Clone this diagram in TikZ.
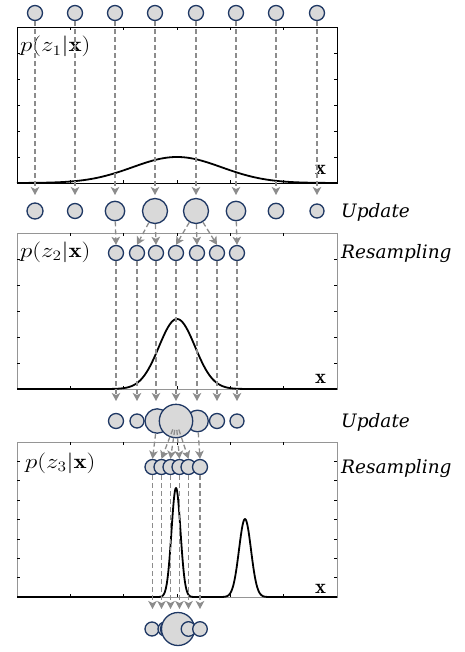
\documentclass[tikz,border=0pt]{standalone}
\usepackage{fontspec}
\usepackage{graphicx}
\newfontfamily\sidefont{DejaVu Serif}
\usetikzlibrary{arrows.meta}
\definecolor{pfill}{HTML}{D9D9D9}
\definecolor{pline}{HTML}{1F3864}
\definecolor{dgray}{HTML}{8C8C8C}
\definecolor{fgray}{HTML}{959595}
\begin{document}
\begin{tikzpicture}[x=1pt,y=-1pt,
  particle/.style={circle,draw=pline,fill=pfill,line width=1.3pt,inner sep=0pt,minimum size=#1},
  dasharr/.style={draw=dgray,line width=1.3pt,dash pattern=on 5pt off 3pt,
    -{Stealth[length=8pt,width=8.5pt,inset=2pt]}},
  curve/.style={black,line width=1.8pt,line join=round},
  tick/.style={line width=0.6pt},
  lab/.style={inner sep=0pt,font=\fontsize{20.74}{24}\selectfont},
  side/.style={inner sep=0pt,font=\sidefont\fontsize{18.5}{22}\selectfont\itshape},
  declare function={g(\x,\m,\s)=exp(-0.5*((\x-\m)/\s)*((\x-\m)/\s));}
]
\useasboundingbox (0,0) rectangle (464,652);

% ---------- panel 1 ----------
\draw[black,line width=0.8pt] (17,27) rectangle (337,183);
\foreach \x in {70,123,177,230,283} {\draw[tick] (\x,27) -- ++(0,3); \draw[tick] (\x,183) -- ++(0,-3);}
\foreach \y in {53,79,105,131,157} {\draw[tick] (17,\y) -- ++(3,0); \draw[tick] (337,\y) -- ++(-3,0);}
\draw[curve] plot[domain=17:337,samples=161] (\x,{183-26*g(\x,177,44.5)});

% ---------- panel 2 ----------
\draw[fgray,line width=0.8pt] (17,233) rectangle (337,389);
\foreach \x in {70,123,177,230,283} {\draw[tick] (\x,233) -- ++(0,3); \draw[tick] (\x,389) -- ++(0,-3);}
\foreach \y in {259,285,311,337,363} {\draw[tick] (17,\y) -- ++(3,0); \draw[tick] (337,\y) -- ++(-3,0);}
\draw[curve] (17,389) -- (87,389) -- plot[domain=87:267,samples=121] (\x,{389-70*g(\x,177,18)}) -- (337,389);

% ---------- panel 3 ----------
\draw[fgray,line width=0.8pt] (17,442) rectangle (337,597);
\foreach \x in {70,123,177,230,283} {\draw[tick] (\x,442) -- ++(0,3); \draw[tick] (\x,597) -- ++(0,-3);}
\foreach \k in {1,...,7} {\draw[tick] (17,442+19.375*\k) -- ++(3,0); \draw[tick] (337,442+19.375*\k) -- ++(-3,0);}
\draw[curve] (17,597) -- (151,597) -- plot[domain=151:201,samples=101] (\x,{597-109*g(\x,176,4.5)})
  -- (215,597) -- plot[domain=215:275,samples=101] (\x,{597-78*g(\x,245,6)}) -- (337,597);

% ---------- labels ----------
\node[lab,anchor=base west] (pz1) at (20,52) {\scalebox{1.2}[1]{$p(z_1|\mathbf{x})$}};
\node[lab,anchor=base west] (pz2) at (20,257) {\scalebox{1.2}[1]{$p(z_2|\mathbf{x})$}};
\node[lab,anchor=base west] (pz3) at (25,468) {\scalebox{1.2}[1]{$p(z_3|\mathbf{x})$}};
\node[lab,anchor=base west] (x1) at (315,175) {$\mathbf{x}$};
\node[lab,anchor=base west] (x2) at (315,383) {$\mathbf{x}$};
\node[lab,anchor=base west] (x3) at (315,593) {$\mathbf{x}$};
\node[side,anchor=base west] (up1) at (341,217) {Update};
\node[side,anchor=base west] (rs1) at (341,258.5) {Resampling};
\node[side,anchor=base west] (up2) at (341,427) {Update};
\node[side,anchor=base west] (rs2) at (341,473.5) {Resampling};

% ---------- particles ----------
\foreach \x [count=\i] in {35,75,115,155,196,236,276,317}
  \node[particle=15pt] (t\i) at (\x,13) {};
\foreach \x/\r [count=\i] in {35/16,75/15,115/19.4,155/25,196/25,236/19.4,276/15.4,317/14}
  \node[particle=\r pt] (u\i) at (\x,211) {};
\foreach \x [count=\i] in {116,137,156,176,197,217,237}
  \node[particle=15pt] (r\i) at (\x,253) {};
\node[particle=15pt] (v1) at (116,421) {};
\node[particle=14pt] (v2) at (137,421) {};
\node[particle=24.4pt] (v3) at (157.2,421) {};
\node[particle=21.6pt] (v5) at (197.5,421) {};
\node[particle=15pt] (v6) at (217,421) {};
\node[particle=14pt] (v7) at (237,421) {};
\node[particle=33.4pt] (v4) at (176,421) {};
\foreach \x [count=\i] in {152.5,161.5,170.5,179.5,188.5,200}
  \node[particle=15pt] (s\i) at (\x,467) {};
\node[particle=14pt] (f1) at (152,629) {};
\node[particle=14pt] (f2) at (165,629) {};
\node[particle=16pt] (f3) at (168.5,629) {};
\node[particle=33pt] (f4) at (178,629) {};
\node[particle=14.6pt] (f5) at (188.5,629) {};
\node[particle=14.6pt] (f6) at (200,629) {};

% ---------- connectors ----------
\coordinate (e1) at (0,195);
\coordinate (e2) at (0,401);
\coordinate (e3) at (0,609);
\foreach \i in {1,...,8} \draw[dasharr] (t\i) -- (t\i |- e1);
\draw[dasharr] (u3) -- (r1.north);
\draw[dasharr] (u4) -- (r2.north);
\draw[dasharr] (u4) -- (r3.north);
\draw[dasharr] (u5) -- (r4.north);
\draw[dasharr] (u5) -- (r5.north);
\draw[dasharr] (u5) -- (r6.north);
\draw[dasharr] (u6) -- (r7.north);
\foreach \i in {1,...,7} \draw[dasharr] (r\i) -- (r\i |- e2);
\draw[dasharr] (v3) -- (s1.north);
\foreach \i in {2,...,5} \draw[dasharr,shorten <=9pt] (v4.center) -- (s\i.north);
\draw[dasharr] (v5) -- (s6.north);
\foreach \i in {1,...,6} \draw[dasharr] (s\i) -- (s\i |- e3);
\end{tikzpicture}
\end{document}
